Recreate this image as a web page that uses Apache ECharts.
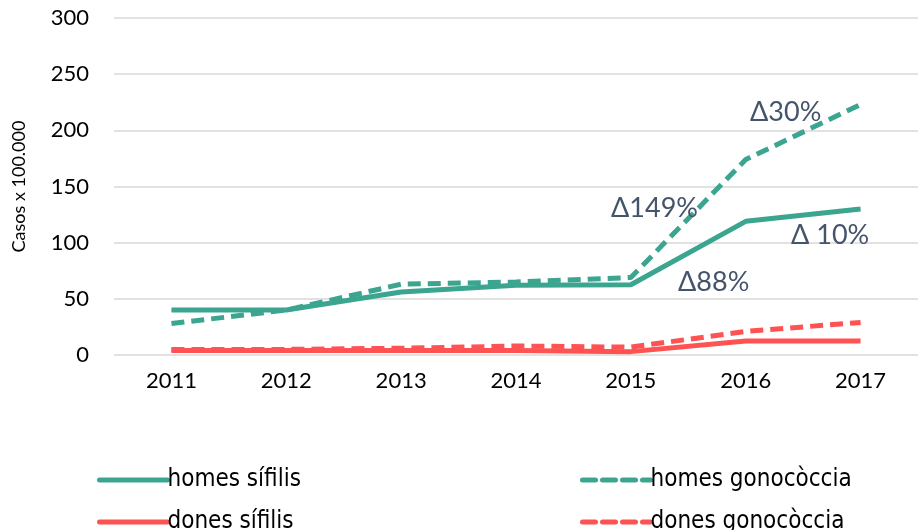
<!DOCTYPE html>
<html>
<head>
<meta charset="utf-8">
<script src="https://cdn.jsdelivr.net/npm/echarts@6/dist/echarts.min.js"></script>
<style>
  html, body { margin: 0; padding: 0; background: #fff; }
  #chart { width: 918px; height: 530px; }
</style>
</head>
<body>
<div id="chart"></div>
<script>
var years = ['2011', '2012', '2013', '2014', '2015', '2016', '2017'];
var homesSifilis = [40, 40, 56, 62, 62.5, 119, 130];
var homesGono = [28, 40, 63, 65, 69, 174, 223];
var donesSifilis = [4, 4, 4, 4, 3, 12.5, 12.5];
var donesGono = [5, 5, 6, 8, 7, 21, 29];
var yTicks = [0, 50, 100, 150, 200, 250, 300];

var teal = '#3BA58F';
var red = '#FF5252';
var noteColor = '#44546A';
var font = 'Lato';
var legendFont = '"Liberation Sans Narrow", "DejaVu Sans Condensed", Lato';

var chart = echarts.init(document.getElementById('chart'));

function lineSeries(name, data, color, dashed) {
    return {
        name: name,
        type: 'line',
        data: data,
        symbol: 'none',
        smooth: false,
        lineStyle: {
            color: color,
            width: 5,
            type: dashed ? [13, 7] : 'solid',
            cap: 'butt'
        },
        itemStyle: { color: color },
        z: dashed ? 3 : 2
    };
}

// etiquetes de variació
var notes = [
    { text: 'Δ30%', x: 750, y: 115 },
    { text: 'Δ149%', x: 611, y: 211 },
    { text: 'Δ 10%', x: 791, y: 238 },
    { text: 'Δ88%', x: 678, y: 285 }
];

// una llegenda per element, per controlar la posició
function legendItem(left, centerY, name) {
    return {
        left: left,
        top: centerY - 8,
        padding: 0,
        itemWidth: 68,
        itemHeight: 16,
        itemStyle: { opacity: 0 },
        lineStyle: { width: 5, cap: 'round' },
        textStyle: { color: '#000', fontFamily: legendFont, fontSize: 24, lineHeight: 16, padding: [0, 0, 0, -5] },
        data: [name]
    };
}

var option = {
    animation: false,
    grid: {
        left: 114,
        top: 18,
        width: 815,
        height: 337
    },
    xAxis: {
        type: 'category',
        data: years,
        boundaryGap: true,
        axisLine: { show: false },
        axisTick: { show: false },
        axisLabel: {
            color: '#000',
            fontFamily: font,
            fontSize: 22,
            margin: 15
        }
    },
    yAxis: {
        type: 'value',
        min: yTicks[0],
        max: yTicks[yTicks.length - 1],
        interval: 50,
        name: 'Casos x 100.000',
        nameLocation: 'middle',
        nameGap: 86,
        nameTextStyle: { color: '#000', fontFamily: font, fontSize: 18 },
        axisLine: { show: false },
        axisTick: { show: false },
        axisLabel: {
            color: '#000',
            fontFamily: font,
            fontSize: 22,
            margin: 25
        },
        splitLine: { lineStyle: { color: '#D9D9D9', width: 1.5 } }
    },
    legend: [
        legendItem(97, 476, 'homes sífilis'),
        legendItem(97, 518, 'dones sífilis'),
        legendItem(580, 476, 'homes gonocòccia'),
        legendItem(580, 518, 'dones gonocòccia')
    ],
    graphic: notes.map(function (n) {
        return {
            type: 'text',
            left: n.x,
            top: n.y - 16,
            z: 10,
            style: {
                text: n.text,
                fill: noteColor,
                font: '27px ' + font
            }
        };
    }),
    series: [
        lineSeries('homes sífilis', homesSifilis, teal, false),
        lineSeries('homes gonocòccia', homesGono, teal, true),
        lineSeries('dones sífilis', donesSifilis, red, false),
        lineSeries('dones gonocòccia', donesGono, red, true)
    ]
};

chart.setOption(option);
</script>
</body>
</html>
